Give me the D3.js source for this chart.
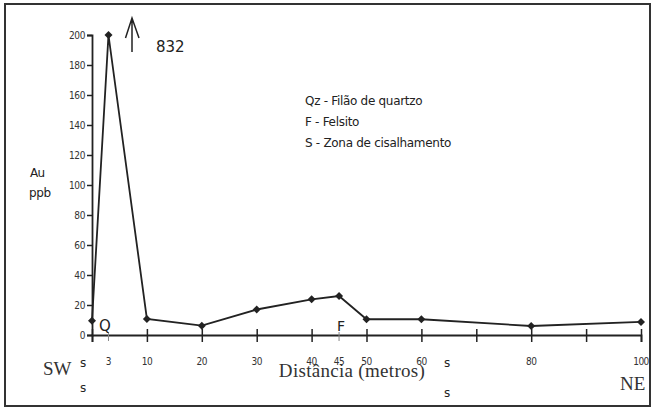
<!DOCTYPE html>
<html>
<head>
<meta charset="utf-8">
<style type="text/css">
    body { margin: 0; background: #fff; }
    .sans { font-family: "DejaVu Sans", sans-serif; fill: #222; }
    .cond { font-family: "DejaVu Sans Condensed", "DejaVu Sans", sans-serif; fill: #333; }
    .serif { font-family: "Liberation Serif", "DejaVu Serif", serif; fill: #333; }
    .tick text { font-family: "DejaVu Sans Condensed", "DejaVu Sans", sans-serif; font-size: 10px; fill: #333; letter-spacing: -0.4px; }
</style>
</head>
<body>
<script src="https://d3js.org/d3.v7.min.js"></script>
<script type="text/javascript">

    // distancia (m) and Au (ppb); the 3 m sample is 832 ppb, drawn clipped at 200
    var distancia = [0, 3, 10, 20, 30, 40, 45, 50, 60, 80, 100];
    var au = [9.5, 832, 10.7, 6.2, 17, 23.8, 26, 10.5, 10.5, 6, 8.7];

    var yTicks = [0, 20, 40, 60, 80, 100, 120, 140, 160, 180, 200];
    var xMajor = [0, 10, 20, 30, 40, 50, 60, 70, 80, 90, 100];
    var xMinor = [3, 45];
    var xLabels = [3, 10, 20, 30, 40, 45, 50, 60, 80, 100];

    var legend = ["Qz - Filão de quartzo", "F - Felsito", "S  - Zona de cisalhamento"];

    var width = 654, height = 408;

    var svg = d3.select("body").append("svg")
        .attr("width", width)
        .attr("height", height);

    // frame
    svg.append("rect")
        .attr("x", 5).attr("y", 4)
        .attr("width", 645).attr("height", 402)
        .style("fill", "none")
        .style("stroke", "#333")
        .style("stroke-width", 2);

    var x = d3.scaleLinear().domain([0, 100]).range([92, 641]);
    var y = d3.scaleLinear().domain([0, 200]).range([335, 35]).clamp(true);

    // y axis
    var yAxis = svg.append("g")
        .attr("transform", "translate(" + x(0) + ",0)")
        .call(d3.axisLeft(y).tickValues(yTicks).tickSize(5).tickPadding(2));
    yAxis.select(".domain").style("stroke", "#222").style("stroke-width", 1.8);
    yAxis.selectAll(".tick line").style("stroke", "#222").style("stroke-width", 1.5);

    // x axis
    var xAxis = svg.append("g")
        .attr("transform", "translate(0," + y(0) + ")")
        .call(d3.axisBottom(x).tickValues(xMajor).tickSize(7).tickFormat(""));
    xAxis.select(".domain").style("stroke", "#222").style("stroke-width", 1.8);
    xAxis.selectAll(".tick line").attr("y1", -6).style("stroke", "#222").style("stroke-width", 1.5);

    svg.append("g").selectAll("line")
        .data(xMinor)
        .enter().append("line")
        .attr("x1", function (d) { return x(d); })
        .attr("x2", function (d) { return x(d); })
        .attr("y1", y(0) - 3)
        .attr("y2", y(0) + 6)
        .style("stroke", "#888")
        .style("stroke-width", 1);

    svg.append("g").selectAll("text")
        .data(xLabels)
        .enter().append("text")
        .attr("class", "cond")
        .attr("x", function (d) { return x(d); })
        .attr("y", 365)
        .attr("text-anchor", "middle")
        .style("font-size", "10px")
        .style("letter-spacing", "-0.5px")
        .text(function (d) { return d; });

    // profile line
    var pts = distancia.map(function (d, i) { return [d, au[i]]; });

    svg.append("path")
        .datum(pts)
        .attr("d", d3.line()
            .x(function (d) { return x(d[0]); })
            .y(function (d) { return y(d[1]); }))
        .style("fill", "none")
        .style("stroke", "#222")
        .style("stroke-width", 1.8);

    svg.append("g").selectAll("path")
        .data(pts)
        .enter().append("path")
        .attr("transform", function (d) { return "translate(" + x(d[0]) + "," + y(d[1]) + ") rotate(45)"; })
        .attr("d", d3.symbol().type(d3.symbolSquare).size(32))
        .style("fill", "#222");

    // arrow + 832
    svg.append("path")
        .attr("d", "M132,52 L132,18 M125.5,38 L132,18 L139,38")
        .style("fill", "none")
        .style("stroke", "#222")
        .style("stroke-width", 1.5);

    svg.append("text").attr("class", "sans")
        .attr("x", 156).attr("y", 52)
        .style("font-size", "15px")
        .text("832");

    // y title
    svg.append("text").attr("class", "sans")
        .attr("x", 30).attr("y", 177)
        .style("font-size", "12px").style("letter-spacing", "-0.6px")
        .text("Au");
    svg.append("text").attr("class", "sans")
        .attr("x", 29).attr("y", 197)
        .style("font-size", "12px").style("letter-spacing", "-0.4px")
        .text("ppb");

    // legend
    svg.append("g").selectAll("text")
        .data(legend)
        .enter().append("text")
        .attr("class", "sans")
        .attr("x", 305)
        .attr("y", function (d, i) { return 105 + i * 21; })
        .style("font-size", "12px")
        .style("letter-spacing", "-0.3px")
        .text(function (d) { return d; });

    // Q and F markers
    svg.append("text").attr("class", "sans")
        .attr("x", 99).attr("y", 331)
        .style("font-size", "15px")
        .text("Q");
    svg.append("text").attr("class", "sans")
        .attr("x", 337).attr("y", 331)
        .style("font-size", "14px")
        .text("F");

    // shear zone s marks
    svg.append("g").selectAll("text")
        .data([[80, 367], [80, 392], [444, 367], [444, 397]])
        .enter().append("text")
        .attr("class", "sans")
        .attr("x", function (d) { return d[0]; })
        .attr("y", function (d) { return d[1]; })
        .style("font-size", "12px")
        .text("s");

    // SW / NE / axis title
    svg.append("text").attr("class", "serif")
        .attr("x", 43).attr("y", 375)
        .style("font-size", "19px")
        .text("SW");
    svg.append("text").attr("class", "serif")
        .attr("x", 352).attr("y", 377)
        .attr("text-anchor", "middle")
        .style("font-size", "19px")
        .style("letter-spacing", "0.3px")
        .text("Distância (metros)");
    svg.append("text").attr("class", "serif")
        .attr("x", 620).attr("y", 390)
        .style("font-size", "19px")
        .text("NE");

</script>
</body>
</html>
